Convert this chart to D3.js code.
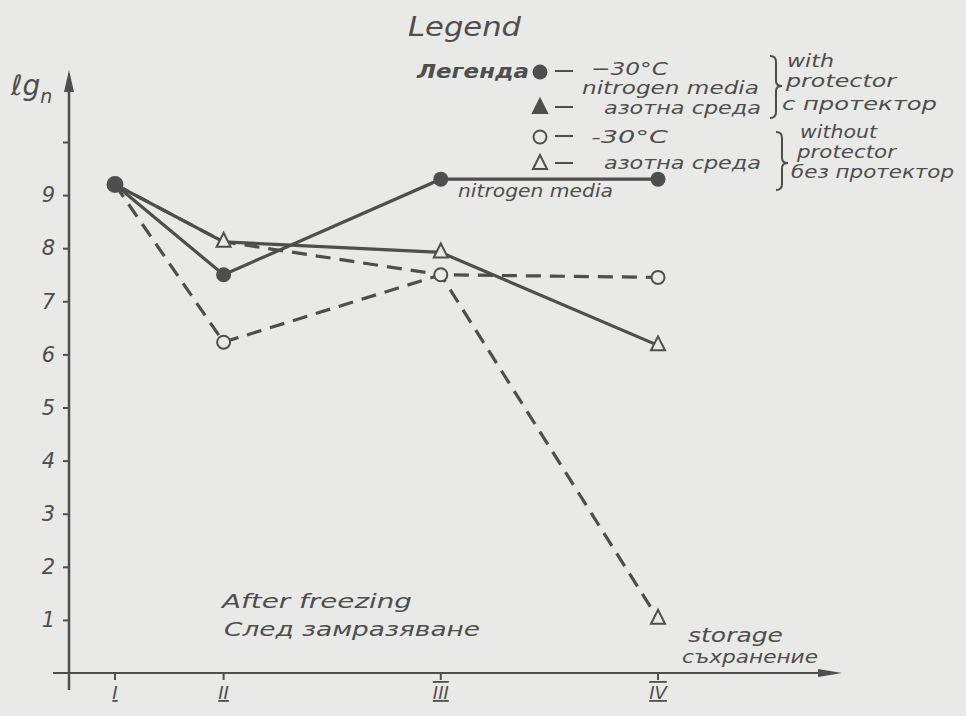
<!DOCTYPE html>
<html>
<head>
<meta charset="utf-8">
<script src="https://cdn.jsdelivr.net/npm/d3@7"></script>
<style>
  body { margin: 0; background: #e9e9e8; }
  svg { display: block; }
  text { font-family: 'DejaVu Sans', sans-serif; font-style: italic; fill: #4e4e4e; }
</style>
</head>
<body>
<div id="chart"></div>
<script>
// stages of storage, their relative position along the time axis
const stages = ['I', 'II', 'III', 'IV'];
const stagePos = [0, 1, 3, 5];
const yTicks = [1, 2, 3, 4, 5, 6, 7, 8, 9, 10];

// lg n values
const withProtMinus30 = [9.2, 7.5, 9.3, 9.3];
const withProtNitrogen = [9.2, 8.12, 7.92, 6.17];
const withoutProtMinus30 = [9.2, 6.23, 7.5, 7.45];
const withoutProtNitrogen = [9.2, 8.12, 7.5, 1.02];

const color = '#4e4e4e';
const bg = '#e9e9e8';
const width = 966;
const height = 716;

const svg = d3.select('#chart').append('svg')
  .attr('width', width)
  .attr('height', height);

const x = d3.scaleLinear().domain([0, 5]).range([115, 658]);
const y = d3.scaleLinear().domain([0, 10]).range([673, 142]);

// axes, drawn by hand like the original: arrows, ticks
const axisG = svg.append('g').attr('stroke', color).attr('fill', 'none');
axisG.append('line').attr('x1', 69).attr('x2', 69).attr('y1', 690).attr('y2', 80).attr('stroke-width', 2.5);
axisG.append('path').attr('d', 'M69,70 L64,92 L74,92 Z').attr('fill', color).attr('stroke', 'none');
axisG.append('line').attr('x1', 53).attr('x2', 832).attr('y1', y(0)).attr('y2', y(0)).attr('stroke-width', 2);
axisG.append('path').attr('d', `M842,${y(0)} L818,${y(0) - 4} L818,${y(0) + 4} Z`).attr('fill', color).attr('stroke', 'none');

const yAxis = d3.axisLeft(y).tickValues(yTicks).tickSize(6).tickPadding(8)
  .tickFormat((d) => (d === 10 ? '' : d));
svg.append('g').attr('transform', 'translate(69,0)').call(yAxis)
  .call((g) => g.select('.domain').remove())
  .call((g) => g.selectAll('line').attr('stroke', color).attr('stroke-width', 2))
  .call((g) => g.selectAll('text').attr('font-size', 21).attr('fill', color)
    .style('font-family', "'DejaVu Sans', sans-serif").style('font-style', 'italic'));

// stage ticks below the axis
const xTickG = svg.append('g');
xTickG.selectAll('line').data(stages).enter().append('line')
  .attr('x1', (d, i) => x(stagePos[i])).attr('x2', (d, i) => x(stagePos[i]))
  .attr('y1', y(0)).attr('y2', y(0) + 7)
  .attr('stroke', color).attr('stroke-width', 2);
xTickG.selectAll('text').data(stages).enter().append('text')
  .attr('x', (d, i) => x(stagePos[i]))
  .attr('y', 699)
  .attr('text-anchor', 'middle')
  .attr('font-size', 18)
  .style('text-decoration', (d, i) => (i >= 2 ? 'underline overline' : 'underline'))
  .text((d) => d);

// series
const series = [
  { values: withProtNitrogen, dash: null, marker: 'tri', markAt: [1, 2, 3] },
  { values: withProtMinus30, dash: null, marker: 'dot', markAt: [1, 2, 3] },
  { values: withoutProtNitrogen, dash: '15,9', marker: 'tri', markAt: [3] },
  { values: withoutProtMinus30, dash: '15,9', marker: 'ring', markAt: [1, 2, 3] },
];

const line = d3.line().x((d, i) => x(stagePos[i])).y((d) => y(d));

svg.append('g').selectAll('path').data(series).enter().append('path')
  .attr('d', (s) => line(s.values))
  .attr('fill', 'none')
  .attr('stroke', color)
  .attr('stroke-width', 3.2)
  .attr('stroke-dasharray', (s) => s.dash);

const markG = svg.append('g');
function drawMarker(g, type, cx, cy, filled) {
  if (type === 'dot') {
    g.append('circle').attr('cx', cx).attr('cy', cy).attr('r', 7.5).attr('fill', color);
  } else if (type === 'ring') {
    g.append('circle').attr('cx', cx).attr('cy', cy).attr('r', 6.5)
      .attr('fill', bg).attr('stroke', color).attr('stroke-width', 2);
  } else {
    const s = 7;
    g.append('path')
      .attr('d', `M${cx},${cy - s - 2} L${cx - s},${cy + s - 2} L${cx + s},${cy + s - 2} Z`)
      .attr('fill', filled ? color : bg).attr('stroke', color).attr('stroke-width', 2)
      .attr('stroke-linejoin', 'miter');
  }
}
series.forEach((s) => {
  s.markAt.forEach((i) => drawMarker(markG, s.marker, x(stagePos[i]), y(s.values[i]), false));
});
// common starting point
drawMarker(markG, 'dot', x(stagePos[0]), y(withProtMinus30[0]));
markG.select('circle:last-child').attr('r', 8.5);

// axis captions
const ylab = svg.append('text').attr('x', 11).attr('y', 95).attr('font-size', 28);
ylab.append('tspan').text('ℓg');
ylab.append('tspan').attr('font-size', 19).attr('dy', 8).text('n');

function label(txt, xPos, yPos, size, len, weight) {
  const t = svg.append('text').attr('x', xPos).attr('y', yPos).attr('font-size', size).text(txt);
  if (len) t.attr('textLength', len).attr('lengthAdjust', 'spacingAndGlyphs');
  if (weight) t.attr('font-weight', weight);
  return t;
}

label('nitrogen media', 458, 197, 18, 155);
label('After freezing', 222, 608, 19, 190);
label('След замразяване', 224, 636, 19, 256);
label('storage', 688, 642, 19, 95);
label('съхранение', 682, 663, 17, 136);

// legend
label('Legend', 408, 36, 26, 113);
label('Легенда', 417, 78, 20, 112, 'bold');

const legendRows = [
  { marker: 'dot', filled: true, cy: 72 },
  { marker: 'tri', filled: true, cy: 108 },
  { marker: 'ring', filled: false, cy: 137 },
  { marker: 'tri', filled: false, cy: 164 },
];
const legG = svg.append('g');
legendRows.forEach((r) => {
  drawMarker(legG, r.marker, 540, r.cy, r.filled);
  legG.append('line').attr('x1', 555).attr('x2', 573).attr('y1', r.cy - 1).attr('y2', r.cy - 1)
    .attr('stroke', color).attr('stroke-width', 2);
});

label('−30°C', 591, 75, 18, 77);
label('nitrogen media', 582, 94, 18, 177);
label('азотна среда', 604, 114, 18, 157);
label('-30°C', 591, 143, 18, 77);
label('азотна среда', 604, 169, 18, 157);

// curly brackets grouping the legend rows
function brace(top, bottom, tip, xb) {
  return `M${xb - 6},${top} Q${xb},${top} ${xb},${top + 6} L${xb},${tip - 5} Q${xb},${tip} ${xb + 6},${tip}`
    + ` Q${xb},${tip} ${xb},${tip + 5} L${xb},${bottom - 6} Q${xb},${bottom} ${xb - 6},${bottom}`;
}
svg.append('path').attr('d', brace(56, 118, 86, 776))
  .attr('fill', 'none').attr('stroke', color).attr('stroke-width', 2);
svg.append('path').attr('d', brace(132, 190, 163, 782))
  .attr('fill', 'none').attr('stroke', color).attr('stroke-width', 2);

label('with', 787, 67, 18, 47);
label('protector', 786, 87, 18, 110);
label('с протектор', 782, 110, 18, 155);
label('without', 800, 138, 18, 77);
label('protector', 797, 158, 18, 99);
label('без протектор', 791, 178, 18, 163);
</script>
</body>
</html>
